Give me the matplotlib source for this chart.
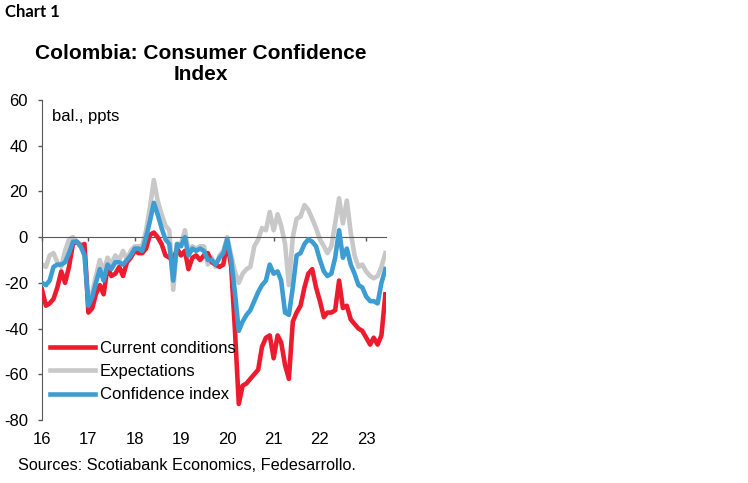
import numpy as np
import pandas as pd
import matplotlib
matplotlib.use('Agg')
import matplotlib.pyplot as plt
import matplotlib.dates as mdates

plt.rcParams['font.family'] = ['Liberation Sans', 'DejaVu Sans']
plt.rcParams['axes.unicode_minus'] = False

# monthly data, Jan 2016 - Jun 2023 (balance, ppts)
dates = pd.date_range('2016-01-01', periods=90, freq='MS')

current = [-23, -30, -29, -27, -22, -15, -20, -13, -3, -2, -4, -3,
           -33, -31, -25, -21, -25, -13, -17, -16, -13, -17, -11, -9,
           -6, -7, -7, -5, 1, 2, 0, -3, -8, -9, -10, -5,
           -8, -6, -14, -9, -8, -10, -8, -7, -11, -12, -13, -12,
           -2, -13, -40, -73, -65, -64, -62, -60, -58, -48, -44, -43,
           -53, -43, -46, -56, -62, -37, -33, -30, -22, -16, -14, -22,
           -28, -35, -33, -33, -32, -19, -31, -30, -36, -38, -40, -41,
           -44, -47, -44, -47, -43, -25]

expectations = [-12, -13, -8, -7, -11, -13, -6, -1, 0, -2, -3, -5,
                -28, -24, -17, -10, -15, -9, -12, -8, -10, -6, -10, -6,
                -4, -4, -4, 3, 13, 25, 16, 10, 5, 3, -23, -3,
                -3, 3, -6, -4, -5, -4, -4, -12, -9, -13, -8, -6,
                0, -8, -15, -20, -16, -14, -13, -4, -1, 4, 3, 11,
                3, 10, 5, -3, -21, 0, 8, 9, 14, 12, 8, 4,
                -1, -4, -7, -4, 6, 17, 6, 16, 2, -8, -13, -12,
                -15, -17, -18, -17, -13, -7]

confidence = [-20, -21, -19, -13, -12, -12, -11, -7, -2, -2, -4, -8,
              -30, -26, -20, -14, -19, -12, -14, -11, -11, -12, -10, -8,
              -5, -5, -6, 0, 7, 15, 10, 4, -1, -3, -19, -3,
              -4, 0, -8, -5, -6, -5, -6, -10, -10, -12, -9, -7,
              -1, -10, -24, -41, -37, -34, -32, -28, -24, -21, -19, -12,
              -16, -15, -19, -33, -34, -22, -8, -7, -3, -1, -2, -4,
              -10, -15, -17, -16, -9, 3, -9, -5, -12, -16, -21, -22,
              -26, -28, -28, -29, -20, -14]

labels = ['Current conditions', 'Expectations', 'Confidence index']
colors = ['#EC1C2E', '#C8C8C8', '#3D9DD3']

fig = plt.figure(figsize=(7.48, 4.83), dpi=100)
ax = fig.add_axes([42/748, 1-420/483, 344/748, 320/483])

ax.plot(dates, current, color=colors[0], lw=3.3, label=labels[0], zorder=3)
ax.plot(dates, expectations, color=colors[1], lw=3.3, label=labels[1], zorder=2)
ax.plot(dates, confidence, color=colors[2], lw=3.3, label=labels[2], zorder=4)

ax.set_ylim(-80, 60)
ax.set_yticks(np.arange(-80, 61, 20))
ax.set_xlim(dates[0], dates[-1] + pd.Timedelta(days=5))

for s in ['top', 'right']:
    ax.spines[s].set_visible(False)
ax.spines['left'].set_color('#595959')
ax.spines['bottom'].set_position(('data', 0))
ax.spines['bottom'].set_color('#595959')
ax.tick_params(axis='y', direction='out', length=3, width=1, color='#595959',
               labelsize=12, pad=7)
ax.xaxis.set_major_locator(mdates.YearLocator())
ax.tick_params(axis='x', direction='out', length=3, width=1, color='#595959',
               labelbottom=False)

# year labels at the bottom
sec = ax.secondary_xaxis('bottom')
sec.xaxis.set_major_locator(mdates.YearLocator())
sec.xaxis.set_major_formatter(mdates.DateFormatter('%y'))
sec.tick_params(length=0, labelsize=12, pad=9)
sec.spines['bottom'].set_visible(False)

ax.text(0.03, 0.95, 'bal., ppts', transform=ax.transAxes, fontsize=12,
        va='center', ha='left')

ax.legend(loc='lower left', bbox_to_anchor=(0.023, 0.055), frameon=False,
          fontsize=12, handlelength=2.7, handletextpad=0.3, labelspacing=0.5,
          borderpad=0, borderaxespad=0)

fig.text(5/748, 1-12/483, 'Chart 1', fontsize=12, fontweight='bold',
         family=['Lato', 'DejaVu Sans'], va='center', ha='left')
fig.text(201/748, 1-64/483, 'Colombia: Consumer Confidence\nIndex',
         fontsize=15, fontweight='bold', ha='center', va='center',
         linespacing=1.15)
fig.text(18/748, 1-466/483, 'Sources: Scotiabank Economics, Fedesarrollo.',
         fontsize=11.7, va='center', ha='left')

plt.savefig('out.png', dpi=100)
